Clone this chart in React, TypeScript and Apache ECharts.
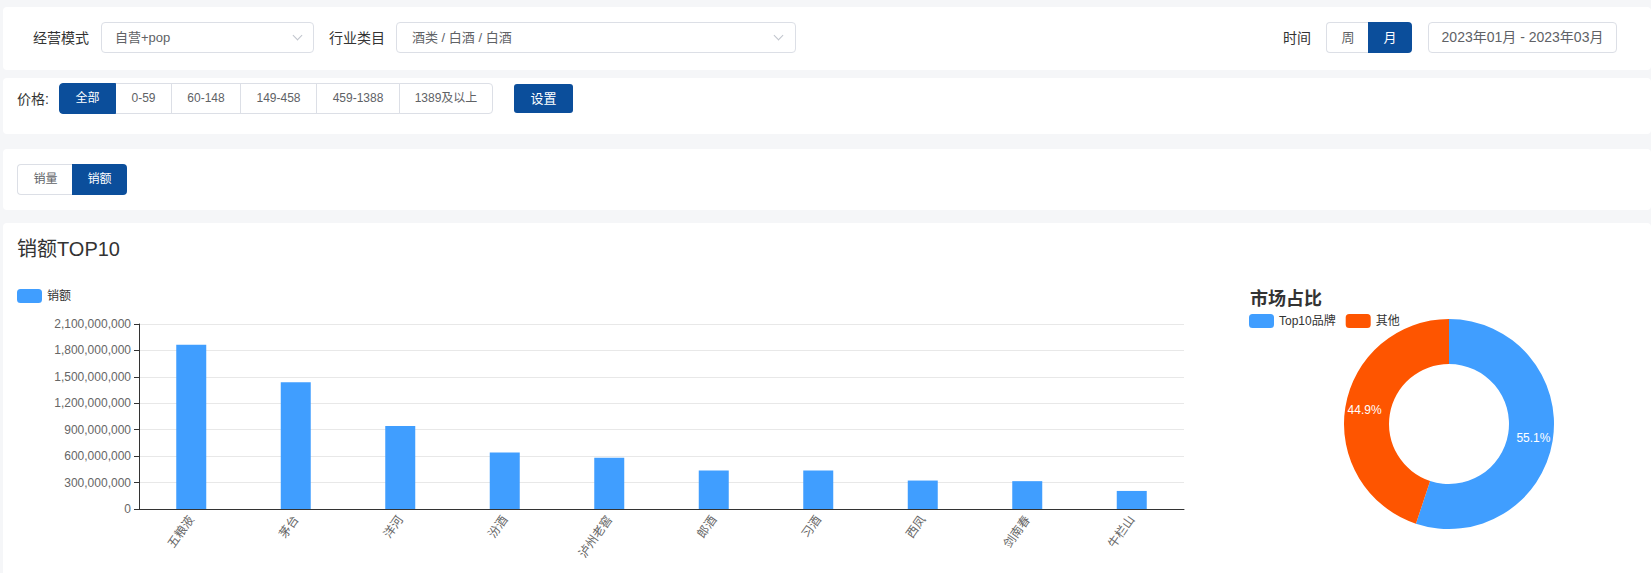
import React, { useEffect, useRef } from "react";
import * as echarts from "echarts";

const brands = ["五粮液", "茅台", "洋河", "汾酒", "泸州老窖", "郎酒", "习酒", "西凤", "剑南春", "牛栏山"];
const salesAmount = [1865000000, 1440000000, 943000000, 640000000, 582000000, 437000000, 436000000, 323000000, 316000000, 205000000];
const barSeriesName = "销额";
const shareNames = ["Top10品牌", "其他"];
const shareValues = [55.1, 44.9];
const yAxisMax = 2100000000;
const yAxisInterval = 300000000;
const priceRanges = ["全部", "0-59", "60-148", "149-458", "459-1388", "1389及以上"];
const priceEdges = [59, 115, 171, 240, 316, 399, 493];

const FONT = '"Liberation Sans", Arial, "Noto Sans CJK SC", sans-serif';
const DARK = "#0b4e9b";
const BORDER = "#dcdfe6";

const abs = (left: number, top: number, extra: React.CSSProperties = {}): React.CSSProperties => ({
  position: "absolute",
  left,
  top,
  boxSizing: "border-box",
  ...extra,
});

function Arrow({ left, top }: { left: number; top: number }) {
  return (
    <div
      style={abs(left, top, {
        width: 7,
        height: 7,
        borderRight: "1px solid #c0c4cc",
        borderBottom: "1px solid #c0c4cc",
        transform: "rotate(45deg)",
      })}
    />
  );
}

function Label({ left, top, text, size = 14 }: { left: number; top: number; text: string; size?: number }) {
  return (
    <div style={abs(left, top, { fontSize: size, lineHeight: "20px", color: "#333", whiteSpace: "nowrap" })}>{text}</div>
  );
}

export default function App() {
  const ref = useRef<HTMLDivElement>(null);

  useEffect(() => {
    const chart = echarts.init(ref.current!, null, { renderer: "svg" });
    chart.setOption({
      animation: false,
      textStyle: { fontFamily: FONT },
      title: [
        {
          text: "销额TOP10",
          left: 17,
          top: 16,
          padding: 0,
          textStyle: { fontSize: 20, fontWeight: "normal", color: "#333", fontFamily: FONT },
        },
        {
          text: "市场占比",
          left: 1250,
          top: 67,
          padding: 0,
          textStyle: { fontSize: 18, fontWeight: "bold", color: "#333", fontFamily: FONT },
        },
      ],
      legend: [
        {
          data: [barSeriesName],
          left: 17,
          top: 66,
          padding: 0,
          itemWidth: 25,
          itemHeight: 14,
          textStyle: { fontSize: 12, color: "#333" },
        },
        {
          data: shareNames,
          left: 1249,
          top: 91,
          padding: 0,
          itemWidth: 25,
          itemHeight: 14,
          itemGap: 10,
          textStyle: { fontSize: 12, color: "#333" },
        },
      ],
      grid: { left: 139, right: 467, top: 101, bottom: 64, containLabel: false },
      xAxis: {
        type: "category",
        data: brands,
        axisLine: { lineStyle: { color: "#333" } },
        axisTick: { lineStyle: { color: "#333" } },
        axisLabel: { rotate: 55, interval: 0, fontSize: 12, color: "#666", margin: 8 },
      },
      yAxis: {
        type: "value",
        min: 0,
        max: yAxisMax,
        interval: yAxisInterval,
        axisLine: { show: true, lineStyle: { color: "#333" } },
        axisTick: { show: true, lineStyle: { color: "#333" } },
        axisLabel: { fontSize: 12, color: "#666", margin: 8 },
        splitLine: { lineStyle: { color: "#e8e8e8" } },
      },
      series: [
        {
          name: barSeriesName,
          type: "bar",
          data: salesAmount,
          barWidth: 30,
          itemStyle: { color: "#409eff" },
        },
        {
          name: "市场占比",
          type: "pie",
          center: [1449, 201],
          radius: [60, 105],
          startAngle: 90,
          clockwise: true,
          data: shareNames.map((n, i) => ({
            name: n,
            value: shareValues[i],
            itemStyle: { color: i === 0 ? "#409eff" : "#fe5500" },
          })),
          label: {
            show: true,
            position: "inside",
            formatter: "{d}%",
            color: "#fff",
            fontSize: 12,
            fontWeight: 500,
          },
          labelLine: { show: false },
        },
      ],
    });
    return () => chart.dispose();
  }, []);

  const card = (top: number, height: number): React.CSSProperties =>
    abs(3, top, { width: 1648, height, background: "#fff", borderRadius: 4 });

  return (
    <div
      style={{
        position: "absolute",
        left: 0,
        top: 0,
        width: 1651,
        height: 573,
        background: "#f5f6f8",
        overflow: "hidden",
        fontFamily: FONT,
      }}
    >
      {/* Row 1 */}
      <div style={card(7, 63)} />
      <Label left={33} top={28} text="经营模式" />
      <div style={abs(101, 22, { width: 213, height: 31, border: `1px solid ${BORDER}`, borderRadius: 4 })} />
      <div style={abs(115, 28, { fontSize: 13, lineHeight: "20px", color: "#606266" })}>自营+pop</div>
      <Arrow left={294} top={32} />
      <Label left={329} top={28} text="行业类目" />
      <div style={abs(396, 22, { width: 400, height: 31, border: `1px solid ${BORDER}`, borderRadius: 4 })} />
      <div style={abs(412, 28, { fontSize: 13, lineHeight: "20px", color: "#606266" })}>酒类 / 白酒 / 白酒</div>
      <Arrow left={775} top={32} />
      <Label left={1283} top={28} text="时间" />
      <div
        style={abs(1326, 22, {
          width: 43,
          height: 31,
          border: `1px solid ${BORDER}`,
          borderRight: "none",
          borderRadius: "4px 0 0 4px",
          fontSize: 13,
          lineHeight: "29px",
          textAlign: "center",
          color: "#606266",
        })}
      >
        周
      </div>
      <div
        style={abs(1368, 22, {
          width: 44,
          height: 31,
          background: DARK,
          borderRadius: "0 4px 4px 0",
          fontSize: 13,
          lineHeight: "31px",
          textAlign: "center",
          color: "#fff",
        })}
      >
        月
      </div>
      <div
        style={abs(1428, 22, {
          width: 189,
          height: 31,
          border: `1px solid ${BORDER}`,
          borderRadius: 4,
          fontSize: 14,
          lineHeight: "29px",
          textAlign: "center",
          color: "#606266",
          whiteSpace: "nowrap",
        })}
      >
        2023年01月 - 2023年03月
      </div>

      {/* Row 2 */}
      <div style={card(78, 56)} />
      <Label left={17} top={89} text="价格:" />
      {priceRanges.map((p, i) => {
        const left = priceEdges[i];
        const width = priceEdges[i + 1] - left + (i < priceRanges.length - 1 ? 1 : 0);
        const active = i === 0;
        return (
          <div
            key={p}
            style={abs(left, 83, {
              width,
              height: 31,
              border: active ? `1px solid ${DARK}` : `1px solid ${BORDER}`,
              background: active ? DARK : "#fff",
              color: active ? "#fff" : "#606266",
              borderRadius: i === 0 ? "4px 0 0 4px" : i === priceRanges.length - 1 ? "0 4px 4px 0" : 0,
              fontSize: 12,
              lineHeight: "29px",
              textAlign: "center",
              whiteSpace: "nowrap",
              zIndex: active ? 1 : 0,
            })}
          >
            {p}
          </div>
        );
      })}
      <div
        style={abs(514, 84, {
          width: 59,
          height: 29,
          background: DARK,
          borderRadius: 3,
          color: "#fff",
          fontSize: 13,
          lineHeight: "29px",
          textAlign: "center",
        })}
      >
        设置
      </div>

      {/* Row 3 */}
      <div style={card(149, 61)} />
      <div
        style={abs(17, 164, {
          width: 56,
          height: 31,
          border: `1px solid ${BORDER}`,
          borderRight: "none",
          borderRadius: "4px 0 0 4px",
          fontSize: 12,
          lineHeight: "29px",
          textAlign: "center",
          color: "#606266",
        })}
      >
        销量
      </div>
      <div
        style={abs(72, 164, {
          width: 55,
          height: 31,
          background: DARK,
          borderRadius: "0 4px 4px 0",
          fontSize: 12,
          lineHeight: "31px",
          textAlign: "center",
          color: "#fff",
        })}
      >
        销额
      </div>

      {/* Row 4: chart */}
      <div style={card(223, 360)} />
      <div ref={ref} style={abs(0, 223, { width: 1651, height: 350 })} />
    </div>
  );
}
